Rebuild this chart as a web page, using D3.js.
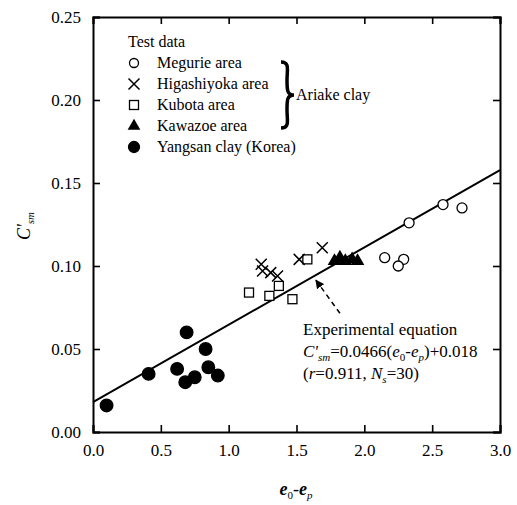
<!DOCTYPE html>
<html>
<head>
<meta charset="utf-8">
<script src="https://cdn.jsdelivr.net/npm/d3@7"></script>
<style>
  body { margin: 0; background: #fff; }
</style>
</head>
<body>
<svg id="chart" width="517" height="505"></svg>
<script>
const margin = { top: 17, right: 17, bottom: 73, left: 93 };
const width = 517;
const height = 505;
const innerWidth = 500 - margin.left;
const innerHeight = 432 - margin.top;
const serif = "Liberation Serif, Tinos, Times New Roman, DejaVu Serif, serif";

// test data
const megurie = [[2.15, 0.105], [2.29, 0.104], [2.25, 0.100], [2.33, 0.126], [2.58, 0.137], [2.72, 0.135]];
const higashiyoka = [[1.24, 0.101], [1.25, 0.097], [1.31, 0.096], [1.36, 0.094], [1.52, 0.104], [1.69, 0.111]];
const kubota = [[1.15, 0.084], [1.30, 0.082], [1.37, 0.088], [1.47, 0.080], [1.58, 0.104]];
const kawazoe = [[1.78, 0.103], [1.82, 0.105], [1.86, 0.103], [1.91, 0.104], [1.95, 0.103]];
const yangsan = [[0.10, 0.016], [0.41, 0.035], [0.62, 0.038], [0.68, 0.030], [0.69, 0.060],
                 [0.75, 0.033], [0.83, 0.050], [0.85, 0.039], [0.92, 0.034]];

const xTicks = [0.0, 0.5, 1.0, 1.5, 2.0, 2.5, 3.0];
const yTicks = [0.00, 0.05, 0.10, 0.15, 0.20, 0.25];

const slope = 0.0466;
const intercept = 0.018;

const svg = d3.select("#chart").attr("font-family", serif);
const g = svg.append("g").attr("transform", `translate(${margin.left},${margin.top})`);

const xScale = d3.scaleLinear().domain([0, 3]).range([0, innerWidth]);
const yScale = d3.scaleLinear().domain([0, 0.25]).range([innerHeight, 0]);

// axes with inward ticks on all four sides
const tickLen = 7;
const bottomAxis = g.append("g").attr("transform", `translate(0,${innerHeight})`)
  .call(d3.axisBottom(xScale).tickValues(xTicks).tickSize(-tickLen).tickPadding(12).tickFormat(d3.format(".1f")));
const topAxis = g.append("g")
  .call(d3.axisTop(xScale).tickValues(xTicks).tickSize(-tickLen));
const leftAxis = g.append("g")
  .call(d3.axisLeft(yScale).tickValues(yTicks).tickSize(-tickLen).tickPadding(12).tickFormat(d3.format(".2f")));
const rightAxis = g.append("g").attr("transform", `translate(${innerWidth},0)`)
  .call(d3.axisRight(yScale).tickValues(yTicks).tickSize(-tickLen));
topAxis.selectAll("text").remove();
rightAxis.selectAll("text").remove();
[bottomAxis, leftAxis].forEach(a => a.attr("font-family", serif).attr("font-size", 17));

g.selectAll(".domain").attr("stroke", "#000").attr("stroke-width", 2);
g.selectAll(".tick line").attr("stroke", "#000").attr("stroke-width", 1.6);

// regression line
g.append("line")
  .attr("x1", xScale(0)).attr("y1", yScale(intercept))
  .attr("x2", xScale(3)).attr("y2", yScale(slope * 3 + intercept))
  .attr("stroke", "#000").attr("stroke-width", 2);

// marker drawers
function drawCircle(sel, filled, r) {
  sel.append("circle").attr("r", r)
    .attr("fill", filled ? "#000" : "#fff").attr("stroke", "#000").attr("stroke-width", 1.3);
}
function drawCross(sel) {
  const s = 5.5;
  sel.append("path").attr("d", `M${-s},${-s}L${s},${s}M${-s},${s}L${s},${-s}`)
    .attr("stroke", "#000").attr("stroke-width", 1.5).attr("fill", "none");
}
function drawSquare(sel) {
  sel.append("rect").attr("x", -4.5).attr("y", -4.5).attr("width", 9).attr("height", 9)
    .attr("fill", "#fff").attr("stroke", "#000").attr("stroke-width", 1.3);
}
function drawTriangle(sel, area = 80) {
  sel.append("path").attr("d", d3.symbol(d3.symbolTriangle, area)())
    .attr("fill", "#000");
}

function plot(data, drawer) {
  g.selectAll(null).data(data).enter().append("g")
    .attr("transform", d => `translate(${xScale(d[0])},${yScale(d[1])})`)
    .each(function () { drawer(d3.select(this)); });
}
plot(kubota, drawSquare);
plot(higashiyoka, drawCross);
plot(megurie, s => drawCircle(s, false, 5));
plot(kawazoe, s => drawTriangle(s, 80));
plot(yangsan, s => drawCircle(s, true, 6.3));

// helper for serif text
function txt(parent, x, y, size) {
  return parent.append("text").attr("x", x).attr("y", y)
    .attr("font-family", serif).attr("font-size", size);
}
function span(t, s, opts = {}) {
  const ts = t.append("tspan").text(s);
  if (opts.italic) ts.attr("font-style", "italic");
  if (opts.bold) ts.attr("font-weight", "bold");
  if (opts.size) ts.attr("font-size", opts.size);
  if (opts.dy) ts.attr("dy", opts.dy);
  return ts;
}

// legend
const legend = svg.append("g");
txt(legend, 128, 47, 16).text("Test data");
const legendItems = [
  { label: "Megurie area", draw: s => drawCircle(s, false, 4.5) },
  { label: "Higashiyoka area", draw: drawCross },
  { label: "Kubota area", draw: drawSquare },
  { label: "Kawazoe area", draw: s => drawTriangle(s, 70) },
  { label: "Yangsan clay (Korea)", draw: s => drawCircle(s, true, 5.5) }
];
legendItems.forEach((item, i) => {
  const cy = 63 + i * 21;
  const m = legend.append("g").attr("transform", `translate(134,${cy})`);
  item.draw(m);
  txt(legend, 157, cy + 5, 16).text(item.label);
});

// brace for Ariake clay
legend.append("path")
  .attr("d", "M281,62 C290,62 287,70 287,80 C287,90 287,95 294,95 C287,95 287,100 287,110 C287,120 290,128 281,128")
  .attr("fill", "none").attr("stroke", "#000").attr("stroke-width", 3.5);
txt(legend, 296, 100, 16).text("Ariake clay");

// dashed arrow to the line
const arrowTip = [1.643, 0.0915];
const arrowTail = [1.82, 0.0715];
svg.append("defs").append("marker")
  .attr("id", "head").attr("viewBox", "0 0 10 10").attr("refX", 9).attr("refY", 5)
  .attr("markerWidth", 6).attr("markerHeight", 6).attr("orient", "auto")
  .append("path").attr("d", "M0,0L10,5L0,10z").attr("fill", "#000");
g.append("line")
  .attr("x1", xScale(arrowTail[0])).attr("y1", yScale(arrowTail[1]))
  .attr("x2", xScale(arrowTip[0])).attr("y2", yScale(arrowTip[1]))
  .attr("stroke", "#000").attr("stroke-width", 1.5).attr("stroke-dasharray", "5,4")
  .attr("marker-end", "url(#head)");

// equation annotation
txt(svg, 303, 335, 17).text("Experimental equation");
const eq = txt(svg, 303, 357, 17);
span(eq, "C'", { italic: true });
span(eq, "sm", { italic: true, size: 11, dy: 4 });
span(eq, "=0.0466(", { dy: -4 });
span(eq, "e", { italic: true });
span(eq, "0", { size: 11, dy: 4 });
span(eq, "-", { dy: -4 });
span(eq, "e", { italic: true });
span(eq, "p", { italic: true, size: 11, dy: 4 });
span(eq, ")+0.018", { dy: -4 });
const stat = txt(svg, 303, 379, 17);
span(stat, "(");
span(stat, "r", { italic: true });
span(stat, "=0.911, ");
span(stat, "N", { italic: true });
span(stat, "s", { italic: true, size: 11, dy: 4 });
span(stat, "=30)", { dy: -4 });

// axis titles
const xl = txt(svg, 296, 495, 18).attr("text-anchor", "middle");
span(xl, "e", { italic: true, bold: true });
span(xl, "0", { size: 11, dy: 4 });
span(xl, "-", { dy: -4 });
span(xl, "e", { italic: true, bold: true });
span(xl, "p", { italic: true, size: 11, dy: 4 });

const yl = svg.append("text").attr("transform", "translate(30,226) rotate(-90)")
  .attr("text-anchor", "middle").attr("font-family", serif).attr("font-size", 18);
span(yl, "C'", { italic: true });
span(yl, "sm", { italic: true, size: 11, dy: 4 });
</script>
</body>
</html>
